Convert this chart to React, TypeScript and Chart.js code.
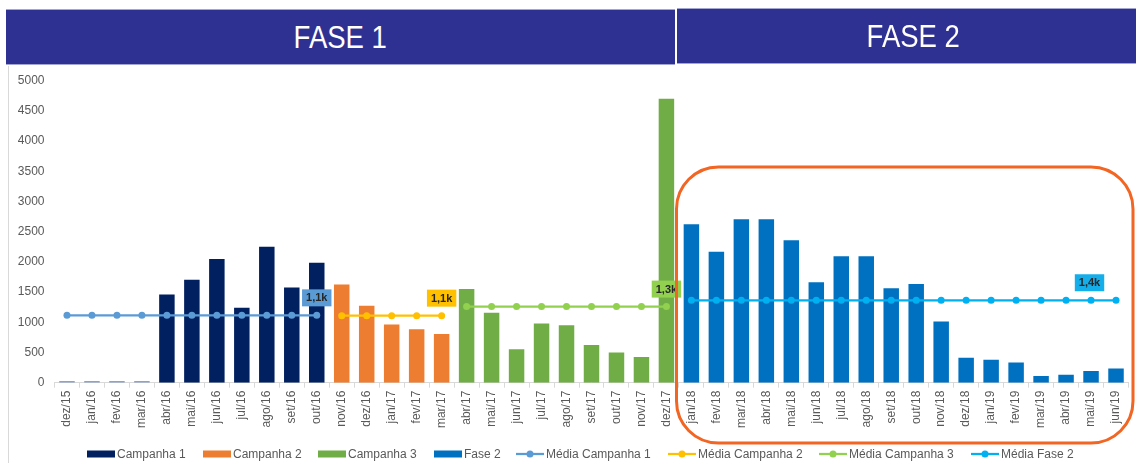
import React, { useEffect, useRef } from "react";
import { Chart, registerables } from "chart.js";

Chart.register(...registerables);

// ---------- DATA ----------
const categories = [
  "dez/15",
  "jan/16", "fev/16", "mar/16", "abr/16", "mai/16", "jun/16", "jul/16", "ago/16", "set/16", "out/16", "nov/16", "dez/16",
  "jan/17", "fev/17", "mar/17", "abr/17", "mai/17", "jun/17", "jul/17", "ago/17", "set/17", "out/17", "nov/17", "dez/17",
  "jan/18", "fev/18", "mar/18", "abr/18", "mai/18", "jun/18", "jul/18", "ago/18", "set/18", "out/18", "nov/18", "dez/18",
  "jan/19", "fev/19", "mar/19", "abr/19", "mai/19", "jun/19",
];

// Campanha 1: dez/15 .. out/16
const campanha1 = [30, 30, 30, 30, 1460, 1705, 2050, 1240, 2250, 1575, 1985];
// Campanha 2: nov/16 .. mar/17
const campanha2 = [1625, 1275, 965, 885, 805];
// Campanha 3: abr/17 .. dez/17
const campanha3 = [1550, 1160, 555, 980, 950, 625, 500, 425, 4700];
// Fase 2: jan/18 .. jun/19
const fase2 = [2625, 2170, 2705, 2705, 2360, 1665, 2095, 2095, 1565, 1635, 1015, 415, 380, 335, 110, 130, 195, 235];

const startCampanha1 = 0;
const startCampanha2 = 11;
const startCampanha3 = 16;
const startFase2 = 25;

// averages (horizontal lines)
const mediaCampanha1 = 1115;
const mediaCampanha2 = 1110;
const mediaCampanha3 = 1260;
const mediaFase2 = 1365;

const mediaLabels = ["1,1k", "1,1k", "1,3k", "1,4k"];

const yTicks = [0, 500, 1000, 1500, 2000, 2500, 3000, 3500, 4000, 4500, 5000];

// ---------- helpers ----------
function place(values: number[], start: number): (number | null)[] {
  return categories.map((_, i) => (i >= start && i < start + values.length ? values[i - start] : null));
}
function span(value: number, start: number, len: number): (number | null)[] {
  return categories.map((_, i) => (i >= start && i < start + len ? value : null));
}

const FONT = '"Liberation Sans", Arial, sans-serif';
const GRAY = "#595959";

const LEGEND_X = [87, 203, 318, 434, 516, 668, 819, 971];
const LEGEND_Y = 454;

const mediaLabelPlugin = {
  id: "mediaLabels",
  afterDatasetsDraw(chart: any) {
    const ctx = chart.ctx;
    chart.data.datasets.forEach((ds: any, di: number) => {
      if (!ds.mediaLabel) return;
      const meta = chart.getDatasetMeta(di);
      let last = -1;
      ds.data.forEach((v: any, i: number) => {
        if (v != null) last = i;
      });
      const pt = meta.data[last];
      if (!pt) return;
      ctx.save();
      ctx.font = "bold 11px " + FONT;
      const w = ctx.measureText(ds.mediaLabel).width + 8;
      const h = 17;
      const cx = pt.x + (ds.mediaLabelDx || 0);
      const bottom = pt.y - 9;
      ctx.fillStyle = ds.mediaLabelBg;
      ctx.fillRect(cx - w / 2, bottom - h, w, h);
      ctx.fillStyle = "#262626";
      ctx.textAlign = "center";
      ctx.textBaseline = "middle";
      ctx.fillText(ds.mediaLabel, cx, bottom - h / 2 + 0.5);
      ctx.restore();
    });
  },
};

const decorPlugin = {
  id: "decor",
  afterDraw(chart: any) {
    const ctx = chart.ctx;
    ctx.save();
    // left chart border
    ctx.strokeStyle = "#D9D9D9";
    ctx.lineWidth = 1;
    ctx.beginPath();
    ctx.moveTo(8.5, 66);
    ctx.lineTo(8.5, 463);
    ctx.stroke();

    // orange highlight rounded rectangle
    const x0 = 676.5, y0 = 167, x1 = 1133, y1 = 443, r = 42;
    ctx.strokeStyle = "#F26522";
    ctx.lineWidth = 3;
    ctx.beginPath();
    ctx.moveTo(x0 + r, y0);
    ctx.lineTo(x1 - r, y0);
    ctx.arcTo(x1, y0, x1, y0 + r, r);
    ctx.lineTo(x1, y1 - r);
    ctx.arcTo(x1, y1, x1 - r, y1, r);
    ctx.lineTo(x0 + r, y1);
    ctx.arcTo(x0, y1, x0, y1 - r, r);
    ctx.lineTo(x0, y0 + r);
    ctx.arcTo(x0, y0, x0 + r, y0, r);
    ctx.closePath();
    ctx.stroke();

    // legend
    ctx.font = "12px " + FONT;
    ctx.textBaseline = "middle";
    ctx.textAlign = "left";
    chart.data.datasets.forEach((ds: any, i: number) => {
      const x = LEGEND_X[i];
      const color = ds.legendColor;
      if (ds.type === "bar") {
        ctx.fillStyle = color;
        ctx.fillRect(x, LEGEND_Y - 3.5, 28, 7);
      } else {
        ctx.strokeStyle = color;
        ctx.lineWidth = 2.25;
        ctx.beginPath();
        ctx.moveTo(x, LEGEND_Y);
        ctx.lineTo(x + 28, LEGEND_Y);
        ctx.stroke();
        ctx.fillStyle = color;
        ctx.beginPath();
        ctx.arc(x + 14, LEGEND_Y, 3.5, 0, Math.PI * 2);
        ctx.fill();
      }
      ctx.fillStyle = GRAY;
      ctx.fillText(ds.label, x + 30, LEGEND_Y + 0.5);
    });
    ctx.restore();
  },
};

function lineDataset(label: string, value: number, start: number, len: number, color: string, text: string, bg: string, dx = 0) {
  return {
    type: "line",
    label,
    data: span(value, start, len),
    borderColor: color,
    backgroundColor: color,
    legendColor: color,
    borderWidth: 2.25,
    pointRadius: 3.5,
    pointBorderWidth: 0,
    pointBackgroundColor: color,
    spanGaps: false,
    order: 1,
    mediaLabel: text,
    mediaLabelBg: bg,
    mediaLabelDx: dx,
  };
}

function barDataset(label: string, values: number[], start: number, color: any, legendColor: string) {
  return {
    type: "bar",
    label,
    data: place(values, start),
    backgroundColor: color,
    legendColor,
    grouped: false,
    categoryPercentage: 0.62,
    barPercentage: 1,
    order: 2,
  };
}

export default function App() {
  const ref = useRef<HTMLCanvasElement | null>(null);

  useEffect(() => {
    if (!ref.current) return;
    const chart = new Chart(ref.current, {
      type: "bar",
      data: {
        labels: categories,
        datasets: [
          barDataset("Campanha 1", campanha1, startCampanha1, (c: any) => (c.dataIndex < 4 ? "#8FA1C7" : "#002060"), "#002060"),
          barDataset("Campanha 2", campanha2, startCampanha2, "#ED7D31", "#ED7D31"),
          barDataset("Campanha 3", campanha3, startCampanha3, "#70AD47", "#70AD47"),
          barDataset("Fase 2", fase2, startFase2, "#0070C0", "#0070C0"),
          lineDataset("Média Campanha 1", mediaCampanha1, startCampanha1, campanha1.length, "#5B9BD5", mediaLabels[0], "#5B9BD5"),
          lineDataset("Média Campanha 2", mediaCampanha2, startCampanha2, campanha2.length, "#FFC000", mediaLabels[1], "#FFC000"),
          lineDataset("Média Campanha 3", mediaCampanha3, startCampanha3, campanha3.length, "#92D050", mediaLabels[2], "#92D050"),
          lineDataset("Média Fase 2", mediaFase2, startFase2, fase2.length, "#00B0F0", mediaLabels[3], "#14AEEA", -26.5),
        ] as any,
      },
      options: {
        animation: false,
        responsive: false,
        maintainAspectRatio: false,
        layout: { padding: { left: 0, top: 80.7, right: 7.5, bottom: 0 } },
        plugins: { legend: { display: false }, tooltip: { enabled: false } },
        scales: {
          x: {
            grid: { display: true, drawOnChartArea: false, offset: true, color: "#D9D9D9", tickLength: 5 },
            border: { display: true, color: "#D9D9D9" },
            ticks: {
              minRotation: 90,
              maxRotation: 90,
              autoSkip: false,
              padding: 3,
              color: GRAY,
              font: { size: 12, family: FONT },
            },
            afterFit: (s: any) => {
              s.height = 463 - 382.7;
            },
          },
          y: {
            min: 0,
            max: 5000,
            afterBuildTicks: (s: any) => {
              s.ticks = yTicks.map((v) => ({ value: v }));
            },
            ticks: {
              padding: 10,
              color: GRAY,
              font: { size: 12, family: FONT },
              callback: (v: any) => String(v),
            },
            grid: { display: false, drawTicks: false },
            border: { display: false },
            afterFit: (s: any) => {
              s.width = 54.5;
            },
          },
        },
      } as any,
      plugins: [mediaLabelPlugin, decorPlugin],
    });
    return () => chart.destroy();
  }, []);

  const header = (left: number, top: number, width: number, text: string) => (
    <div
      style={{
        position: "absolute",
        left,
        top,
        width,
        height: 56,
        boxSizing: "border-box",
        background: "#2E3192",
        borderTop: "1px solid #A3A5D3",
        borderBottom: "1px solid #A3A5D3",
        display: "flex",
        alignItems: "center",
        justifyContent: "center",
      }}
    >
      <span
        style={{
          display: "inline-block",
          color: "#FFFFFF",
          fontFamily: FONT,
          fontSize: 32,
          lineHeight: "32px",
          transform: "scaleX(0.86)",
        }}
      >
        {text}
      </span>
    </div>
  );

  return (
    <div
      style={{
        position: "absolute",
        left: 0,
        top: 0,
        width: 1136,
        height: 463,
        overflow: "hidden",
        background: "#FFFFFF",
      }}
    >
      <canvas ref={ref} width={1136} height={463} style={{ position: "absolute", left: 0, top: 0 }} />
      {header(6, 9, 669, "FASE 1")}
      {header(677, 8, 473, "FASE 2")}
    </div>
  );
}
